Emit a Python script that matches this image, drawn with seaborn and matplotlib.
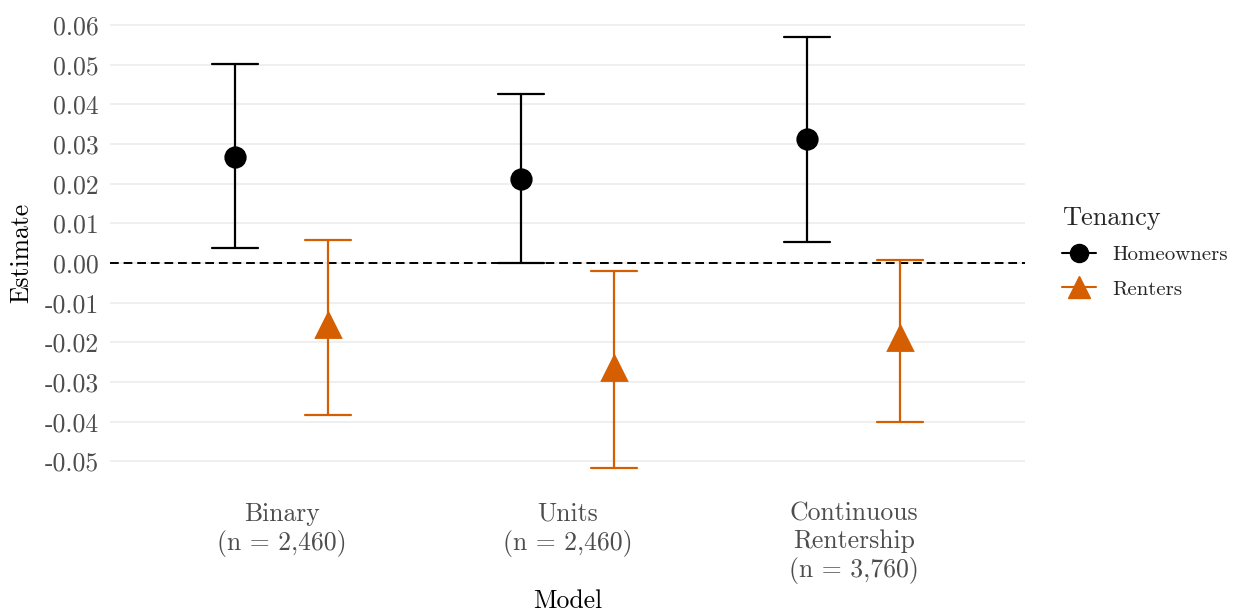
import numpy as np
import pandas as pd
import matplotlib
matplotlib.use("Agg")
import matplotlib.pyplot as plt
from matplotlib.lines import Line2D
import seaborn as sns

# ---- data ----
models = ["Binary\n(n = 2,460)", "Units\n(n = 2,460)", "Continuous\nRentership\n(n = 3,760)"]
tenancy = ["Homeowners", "Renters"]
home_est = [0.0267, 0.0212, 0.0312]
home_lo = [0.0037, 0.0000, 0.0053]
home_hi = [0.0502, 0.0426, 0.0570]
rent_est = [-0.0157, -0.0265, -0.0190]
rent_lo = [-0.0383, -0.0518, -0.0400]
rent_hi = [0.0058, -0.0020, 0.0008]
yticks = [0.06, 0.05, 0.04, 0.03, 0.02, 0.01, 0.00, -0.01, -0.02, -0.03, -0.04, -0.05]
ytick_labels = ["0.06", "0.05", "0.04", "0.03", "0.02", "0.01", "0.00",
                "-0.01", "-0.02", "-0.03", "-0.04", "-0.05"]
colors = {"Homeowners": "#000000", "Renters": "#D55E00"}

# long table: lower / estimate / upper per group; median -> estimate, 100% interval -> CI
rows = []
for t, est, lo, hi in [("Homeowners", home_est, home_lo, home_hi),
                       ("Renters", rent_est, rent_lo, rent_hi)]:
    for m, e, l, h in zip(models, est, lo, hi):
        for v in (l, e, h):
            rows.append({"Model": m, "Tenancy": t, "Estimate": v})
df = pd.DataFrame(rows)

sns.set_theme(style="white")
plt.rcParams["font.family"] = ["cmr10", "DejaVu Serif"]
plt.rcParams["axes.unicode_minus"] = False

fig = plt.figure(figsize=(12.38, 6.14), dpi=100)
ax = fig.add_axes([0.0889, 0.2028, 0.7392, 0.772])

ax.axhline(0, color="black", lw=1.4, linestyle=(0, (4.5, 2.5)), zorder=1.5)

sns.pointplot(data=df, x="Model", y="Estimate", hue="Tenancy", order=models,
              hue_order=tenancy, palette=colors, estimator="median",
              errorbar=("pi", 100), dodge=0.325, linestyle="none",
              markers=["o", "^"], capsize=0.16, err_kws={"linewidth": 1.6},
              ax=ax, legend=False, zorder=3)

for ln in ax.lines:
    if ln.get_marker() == "o":
        ln.set_markersize(14)
    elif ln.get_marker() == "^":
        ln.set_markersize(17)

ax.set_xlim(-0.6, 2.6)
ax.set_ylim(-0.0571, 0.0624)
ax.set_yticks(yticks)
ax.set_yticklabels(ytick_labels)
ax.yaxis.grid(True, color="#EBEBEB", lw=1.1)
ax.xaxis.grid(False)
ax.set_axisbelow(True)
for s in ax.spines.values():
    s.set_visible(False)
ax.tick_params(axis="both", labelsize=18.5, colors="#4D4D4D", length=0)
ax.tick_params(axis="y", pad=8)
ax.tick_params(axis="x", pad=9)
ax.set_xlabel("Model", fontsize=18.5, color="black", labelpad=4)
ax.set_ylabel("Estimate", fontsize=18.5, color="black", labelpad=8)

handles = [Line2D([], [], color=colors["Homeowners"], marker="o", markersize=13, lw=1.5),
           Line2D([], [], color=colors["Renters"], marker="^", markersize=16, lw=1.5)]
leg = ax.legend(handles, tenancy, title="Tenancy", loc="center left",
                bbox_to_anchor=(1.02, 0.50), frameon=False, fontsize=15,
                title_fontsize=19, handlelength=1.6, labelspacing=0.75,
                handletextpad=0.8, alignment="left")

fig.savefig("out.png", dpi=100)
